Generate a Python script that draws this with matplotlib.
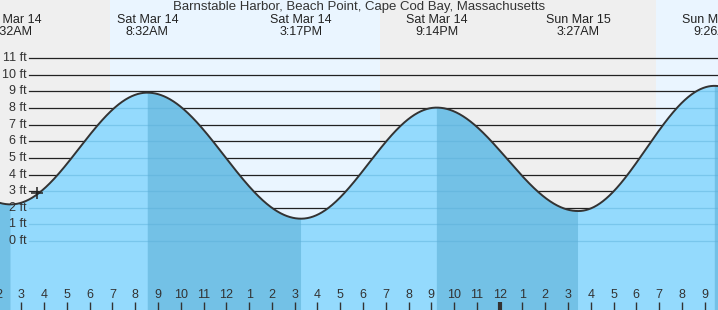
"""Grafico de marea - Barnstable Harbor, Beach Point."""
import numpy as np
import matplotlib
matplotlib.use("Agg")
import matplotlib.pyplot as plt
from matplotlib.patches import Polygon

plt.rcParams["font.family"] = ["Liberation Sans", "DejaVu Sans"]

# Pleamares / bajamares (horas desde Mar 14 00:00) y alturas en pies
marea_horas = [-3.70, 2.533, 8.533, 15.283, 21.233, 27.45, 33.433, 39.70]
marea_pies = [8.6, 2.2, 8.93, 1.34, 8.03, 1.8, 9.34, 1.0]
etiqueta_fecha = ["Fri Mar 13", "Sat Mar 14", "Sat Mar 14", "Sat Mar 14",
                  "Sat Mar 14", "Sun Mar 15", "Sun Mar 15", "Sun Mar 15"]
etiqueta_hora = ["8:42PM", "2:32AM", "8:32AM", "3:17PM",
                 "9:14PM", "3:27AM", "9:26AM", "3:42PM"]

# Salida / puesta del sol (horas)
sol_horas = [6.89, 18.75, 30.86]
niveles_ft = list(range(0, 12))
ahora_hora, ahora_ft = 3.70, 2.87

titulo = "Barnstable Harbor, Beach Point, Cape Cod Bay, Massachusetts"

X0, X1 = 2.065, 33.585
Y0, Y1 = -4.16, 14.51
PX_FT = 16.6
C_NOCHE = "#efefef"
C_DIA = "#eaf5ff"
C_AGUA = "#94dafd"
C_AGUA_OSC = "#73c1e6"
C_TEXTO = "#333333"
FS = 9

fig = plt.figure(figsize=(7.18, 3.10), dpi=100)
ax = fig.add_axes([0, 0, 1, 1])
ax.set_xlim(X0, X1)
ax.set_ylim(Y0, Y1)
ax.axis("off")

# Fondo dia / noche
bordes = [X0 - 1] + sol_horas + [X1 + 1]
for i in range(len(bordes) - 1):
    ax.axvspan(bordes[i], bordes[i + 1], color=C_NOCHE if i % 2 == 0 else C_DIA,
               lw=0, zorder=0)

# Curva de marea: medio coseno entre extremos
t = np.linspace(X0 - 0.2, X1 + 0.2, 1500)
h = np.zeros_like(t)
bajando = np.zeros_like(t, dtype=bool)
for a, b, ha, hb in zip(marea_horas[:-1], marea_horas[1:], marea_pies[:-1], marea_pies[1:]):
    m = (t >= a) & (t <= b)
    f = (t[m] - a) / (b - a)
    h[m] = ha + (hb - ha) * (1 - np.cos(np.pi * f)) / 2
    if ha > hb:
        bajando |= m

# Lineas de nivel (por encima del agua)
x_ini = 29 / 718
for n in niveles_ft:
    ax.axhline(n, xmin=x_ini, xmax=1, color="#222222", lw=0.9, zorder=1)
    ax.text(0.037, n, f"{n} ft", transform=ax.get_yaxis_transform(),
            ha="right", va="center", fontsize=FS, color=C_TEXTO, zorder=6)

# Agua
ax.fill_between(t, h, Y0, color=C_AGUA, lw=0, zorder=2)
ax.fill_between(t, h, Y0, where=bajando, color=C_AGUA_OSC, lw=0, zorder=2)
recorte = Polygon(list(zip(t, h)) + [(t[-1], Y0), (t[0], Y0)], closed=True,
                  transform=ax.transData)
for n in niveles_ft:
    ln = ax.axhline(n, xmin=x_ini, xmax=1, color="#5aaed8", alpha=0.45,
                    lw=0.9, zorder=3)
    ln.set_clip_path(recorte)
ax.plot(t, h, color="#333333", lw=1.4, zorder=4)
ax.plot(ahora_hora, ahora_ft, marker="+", color="#222222", ms=9, mew=1.1, zorder=5)

# Etiquetas de extremos
for x, fecha, hora in zip(marea_horas, etiqueta_fecha, etiqueta_hora):
    if X0 - 2 < x < X1 + 2:
        ax.text(x, Y1 - 19.5 / PX_FT, fecha, ha="center", va="center",
                fontsize=FS, color="#222222", zorder=6)
        ax.text(x, Y1 - 31.5 / PX_FT, hora, ha="center", va="center",
                fontsize=FS, color="#222222", zorder=6)

fig.text(0.5, 1 - 7 / 310, titulo, ha="center", va="center",
         fontsize=9.5, color=C_TEXTO)

# Marcas de horas abajo
for hr in range(2, 34):
    etiqueta = (hr - 1) % 12 + 1
    ancho = 3.0 if hr % 24 == 0 else 1.0
    ax.plot([hr, hr], [Y0, Y0 + 8 / PX_FT], color="#333333", lw=ancho,
            solid_capstyle="butt", zorder=5, clip_on=False)
    ax.text(hr, Y0 + 15 / PX_FT, str(etiqueta), ha="center", va="center",
            fontsize=FS, color=C_TEXTO, zorder=6)

fig.savefig("out.png", dpi=100)
plt.close(fig)
